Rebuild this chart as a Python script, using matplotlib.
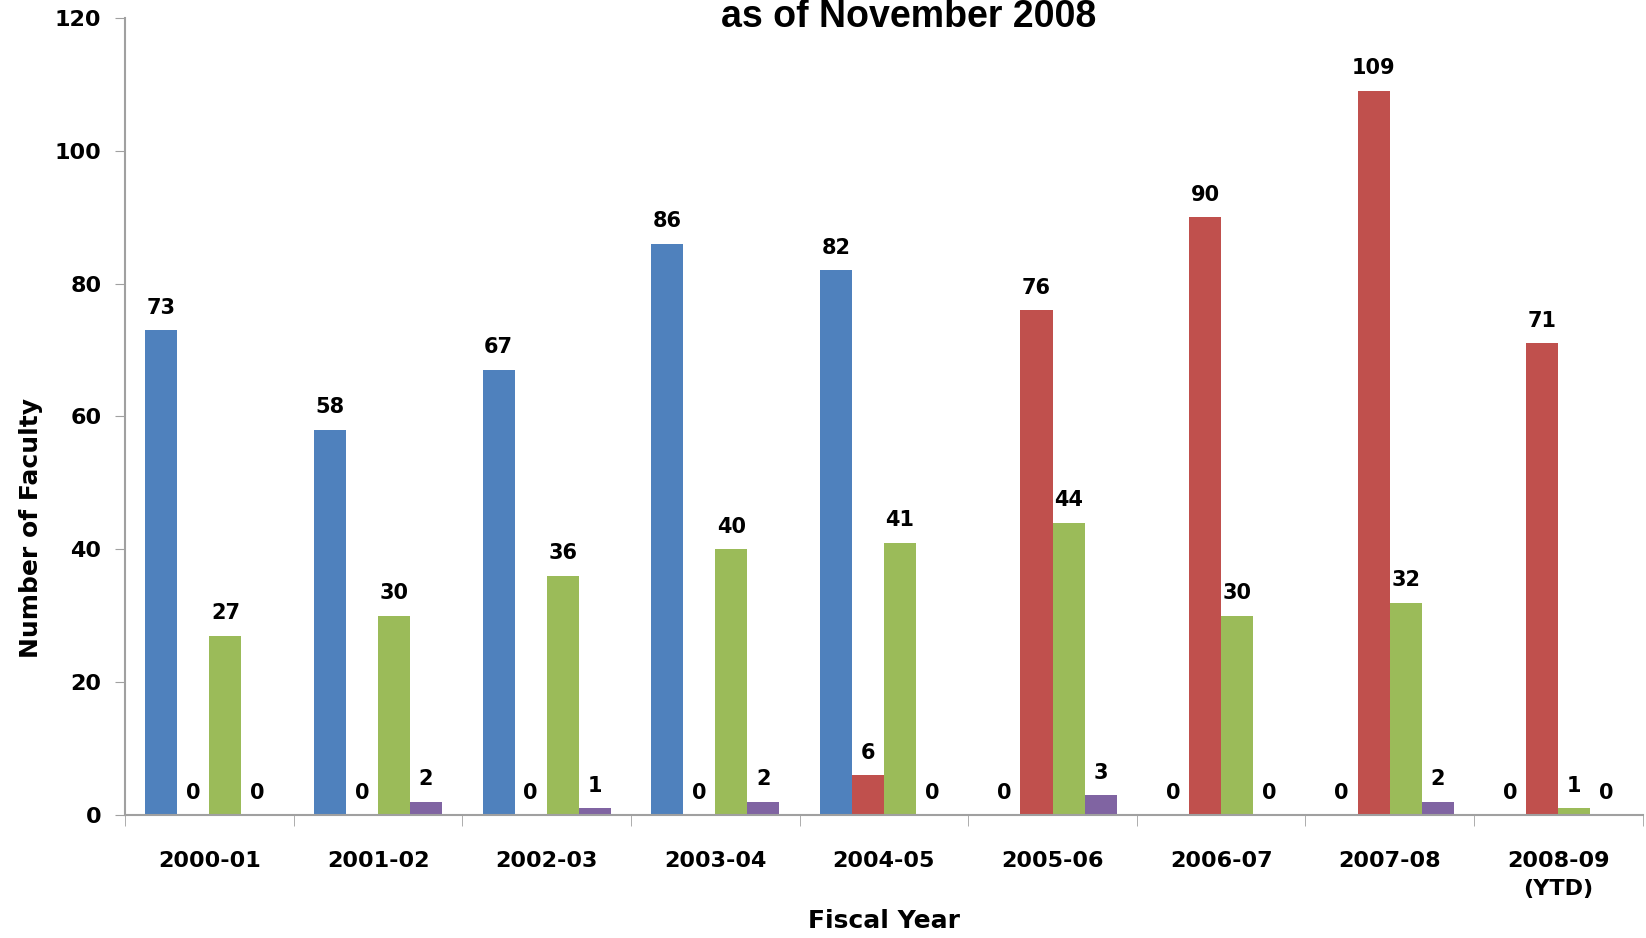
import numpy as np
import matplotlib
matplotlib.use("Agg")
import matplotlib.pyplot as plt

# Data
years = ["2000-01", "2001-02", "2002-03", "2003-04", "2004-05",
         "2005-06", "2006-07", "2007-08", "2008-09\n(YTD)"]
blue_vals = [73, 58, 67, 86, 82, 0, 0, 0, 0]
red_vals = [0, 0, 0, 0, 6, 76, 90, 109, 71]
green_vals = [27, 30, 36, 40, 41, 44, 30, 32, 1]
purple_vals = [0, 2, 1, 2, 0, 3, 0, 2, 0]

COLORS = ["#4F81BD", "#C0504D", "#9BBB59", "#8064A2"]
AXIS_GRAY = "#A0A0A0"

fig = plt.figure(figsize=(16.46, 9.38), dpi=100)
ax = fig.add_axes([0.076, 0.131, 0.922, 0.85])

x = np.arange(len(years))
w = 0.19
series = [blue_vals, red_vals, green_vals, purple_vals]
for i, (vals, col) in enumerate(zip(series, COLORS)):
    pos = x + (i - 1.5) * w
    ax.bar(pos, vals, width=w, color=col, linewidth=0)
    for px, v in zip(pos, vals):
        ax.annotate(str(v), (px, v), xytext=(0, 9), textcoords="offset points",
                    ha="center", va="bottom", fontsize=15, fontweight="bold")

ax.set_xlim(-0.5, len(years) - 0.5)
ax.set_ylim(0, 120)
ax.set_yticks(range(0, 121, 20))
ax.set_xticks(x)
ax.set_xticklabels(years, va="top", linespacing=1.5)
ax.set_xticks(np.arange(-0.5, len(years)), minor=True)
ax.tick_params(axis="x", which="major", length=0, pad=26, labelsize=16)
ax.tick_params(axis="x", which="minor", length=8, color=AXIS_GRAY, direction="out")
ax.tick_params(axis="y", length=7, color=AXIS_GRAY, pad=10, labelsize=16)
for t in ax.get_xticklabels() + ax.get_yticklabels():
    t.set_fontweight("bold")

for s in ["top", "right"]:
    ax.spines[s].set_visible(False)
for s in ["left", "bottom"]:
    ax.spines[s].set_color(AXIS_GRAY)
    ax.spines[s].set_linewidth(1.5)

ax.set_xlabel("Fiscal Year", fontsize=18, fontweight="bold", va="center")
ax.xaxis.set_label_coords(0.5, -0.133)
ax.set_ylabel("Number of Faculty", fontsize=18, fontweight="bold", va="center")
ax.yaxis.set_label_coords(-0.062, 0.36)

fig.text(0.552, 1 - 27 / 938, "as of November 2008", ha="center", va="baseline",
         fontsize=27, fontweight="bold", family="Liberation Sans")

fig.savefig("out.png", dpi=100, facecolor="white")
